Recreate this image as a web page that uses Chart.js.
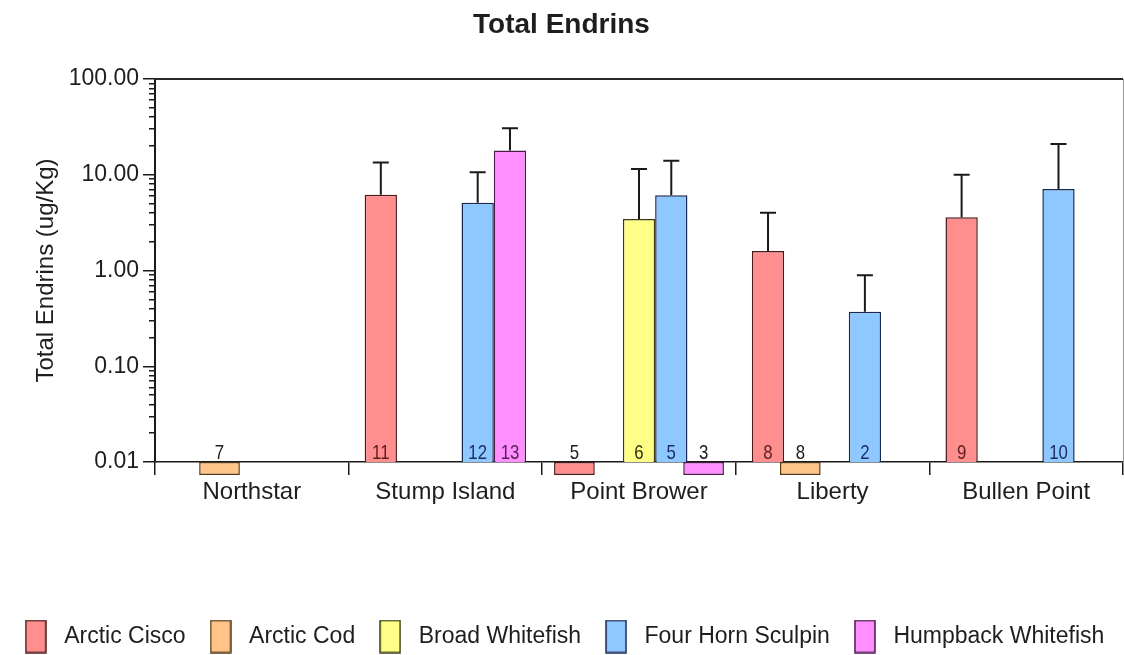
<!DOCTYPE html>
<html>
<head>
<meta charset="utf-8">
<title>Total Endrins</title>
<script src="https://cdn.jsdelivr.net/npm/chart.js@4.4.1/dist/chart.umd.min.js"></script>
<style>
  html, body { margin: 0; padding: 0; background: #ffffff; }
  canvas { display: block; }
</style>
</head>
<body>
<canvas id="chart" width="1124" height="655"></canvas>
<script>
// ---- data -------------------------------------------------------------
const sites = ['Northstar', 'Stump Island', 'Point Brower', 'Liberty', 'Bullen Point'];
const species = ['Arctic Cisco', 'Arctic Cod', 'Broad Whitefish', 'Four Horn Sculpin', 'Humpback Whitefish'];

// Samples with no detection are plotted just below the 0.01 floor.
const ND = 0.0073;

// mean concentration (ug/Kg), upper error bar, sample count
const arcticCiscoMean  = [null, 6.2, ND, 1.6, 3.6];
const arcticCiscoUpper = [null, 13.4, null, 4.0, 10.0];
const arcticCiscoN     = [null, 11, 5, 8, 9];

const arcticCodMean  = [ND, null, null, ND, null];
const arcticCodUpper = [null, null, null, null, null];
const arcticCodN     = [7, null, null, 8, null];

const broadWhitefishMean  = [null, null, 3.45, null, null];
const broadWhitefishUpper = [null, null, 11.5, null, null];
const broadWhitefishN     = [null, null, 6, null, null];

const fourHornMean  = [null, 5.1, 6.1, 0.37, 7.1];
const fourHornUpper = [null, 10.6, 14.0, 0.89, 20.9];
const fourHornN     = [null, 12, 5, 2, 10];

const humpbackMean  = [null, 17.9, ND, null, null];
const humpbackUpper = [null, 30.6, null, null, null];
const humpbackN     = [null, 13, 3, null, null];

const yTickLabels = ['0.01', '0.10', '1.00', '10.00', '100.00'];

// ---- styling ----------------------------------------------------------
const FONT = "'Liberation Sans', Arial, sans-serif";
const INK = '#1e1e1e';
const fills = ['#ff8f8f', '#ffc488', '#ffff88', '#8fc8ff', '#ff8fff'];
const edges = ['#4a1818', '#553814', '#3b3b14', '#18284f', '#4a184a'];
const countInks = ['#5c1e1e', '#222222', '#2e2e10', '#1c2f63', '#5a1f5a'];

// ---- build datasets ---------------------------------------------------
const means = [arcticCiscoMean, arcticCodMean, broadWhitefishMean, fourHornMean, humpbackMean];
const uppers = [arcticCiscoUpper, arcticCodUpper, broadWhitefishUpper, fourHornUpper, humpbackUpper];
const counts = [arcticCiscoN, arcticCodN, broadWhitefishN, fourHornN, humpbackN];

const Y_MIN = Number(yTickLabels[0]);
const Y_MAX = Number(yTickLabels[yTickLabels.length - 1]);
const CAT_PCT = 0.834;

// one slot per species: detected and not-detected bars share the slot
const detectedSets = species.map((name, k) => ({
  label: name,
  stack: 'slot' + k,
  data: means[k].map(v => (v !== null && v >= Y_MIN ? v : null)),
  upper: uppers[k],
  counts: counts[k],
  countInk: countInks[k],
  backgroundColor: fills[k],
  borderColor: edges[k],
  borderWidth: 1.5,
  barPercentage: 1.0,
  categoryPercentage: CAT_PCT
}));

const notDetectedSets = species.map((name, k) => ({
  label: name + ' (not detected)',
  stack: 'slot' + k,
  data: means[k].map(v => (v !== null && v < Y_MIN ? v : null)),
  upper: [],
  counts: counts[k],
  countInk: '#1a1a1a',
  backgroundColor: fills[k],
  borderColor: edges[k],
  borderWidth: 1.5,
  borderSkipped: false,
  barPercentage: 1.26,
  categoryPercentage: CAT_PCT,
  clip: false
}));

// y ticks: every 1..9 multiple of each decade; labels only on decades
const decadeValues = yTickLabels.map(Number);
const yTickValues = [];
decadeValues.forEach((d, i) => {
  yTickValues.push(d);
  if (i < decadeValues.length - 1) {
    for (let m = 2; m <= 9; m++) yTickValues.push(+(d * m).toPrecision(6));
  }
});
const isDecade = v => decadeValues.some(d => Math.abs(d - v) < d * 1e-6);

// tall swatch used as the legend marker
function swatch(k) {
  const c = document.createElement('canvas');
  c.width = 22; c.height = 34;
  const g = c.getContext('2d');
  g.fillStyle = fills[k];
  g.fillRect(1, 1, 20, 32);
  g.strokeStyle = edges[k];
  g.lineWidth = 1.5;
  g.strokeRect(1, 1, 20, 32);
  return c;
}
const swatches = species.map((_, k) => swatch(k));

// error bars, counts and the plot frame
const annotate = {
  id: 'annotate',
  afterDatasetsDraw(chart) {
    const { ctx, chartArea, scales } = chart;
    const yScale = scales.y;
    const base = yScale.getPixelForValue(Y_MIN);

    ctx.save();
    // frame: top edge and light right edge
    ctx.strokeStyle = '#2a2a2a';
    ctx.lineWidth = 2;
    ctx.beginPath();
    ctx.moveTo(chartArea.left, chartArea.top);
    ctx.lineTo(chartArea.right, chartArea.top);
    ctx.stroke();
    ctx.strokeStyle = '#9a9a9a';
    ctx.lineWidth = 1;
    ctx.beginPath();
    ctx.moveTo(chartArea.right + 0.5, chartArea.top);
    ctx.lineTo(chartArea.right + 0.5, chartArea.bottom);
    ctx.stroke();

    chart.data.datasets.forEach((ds, i) => {
      const meta = chart.getDatasetMeta(i);
      meta.data.forEach((bar, j) => {
        if (ds.data[j] === null || ds.data[j] === undefined) return;
        const up = ds.upper[j];
        if (up !== null && up !== undefined) {
          const yTop = yScale.getPixelForValue(up);
          ctx.strokeStyle = '#1a1a1a';
          ctx.lineWidth = 2;
          ctx.beginPath();
          ctx.moveTo(bar.x, bar.y);
          ctx.lineTo(bar.x, yTop);
          ctx.moveTo(bar.x - 8, yTop);
          ctx.lineTo(bar.x + 8, yTop);
          ctx.stroke();
        }
        const n = ds.counts[j];
        if (n !== null && n !== undefined) {
          ctx.save();
          ctx.translate(bar.x, base - 3);
          ctx.scale(0.8, 1);
          ctx.fillStyle = ds.countInk;
          ctx.font = '21px ' + FONT;
          ctx.textAlign = 'center';
          ctx.textBaseline = 'alphabetic';
          ctx.fillText(String(n), 0, 0);
          ctx.restore();
        }
      });
    });
    ctx.restore();
  }
};

new Chart(document.getElementById('chart'), {
  type: 'bar',
  data: {
    labels: sites,
    datasets: detectedSets.concat(notDetectedSets)
  },
  plugins: [annotate],
  options: {
    responsive: false,
    animation: false,
    devicePixelRatio: 1,
    events: [],
    layout: { padding: { left: 0, right: 1, top: 0, bottom: -3 } },
    plugins: {
      tooltip: { enabled: false },
      title: {
        display: true,
        text: 'Total Endrins',
        color: INK,
        font: { family: FONT, size: 28, weight: 'bold' },
        padding: { top: 8, bottom: 37.4 }
      },
      legend: {
        position: 'bottom',
        labels: {
          usePointStyle: true,
          pointStyleWidth: 34,
          color: INK,
          font: { family: FONT, size: 23 },
          padding: 18,
          generateLabels: chart => species.map((name, k) => ({
            text: name,
            pointStyle: swatches[k],
            fillStyle: fills[k],
            strokeStyle: edges[k],
            lineWidth: 1.5,
            hidden: false,
            datasetIndex: k,
            fontColor: INK
          }))
        }
      }
    },
    scales: {
      x: {
        type: 'category',
        position: 'bottom',
        offset: true,
        grid: {
          offset: true,
          drawOnChartArea: false,
          drawTicks: true,
          tickLength: 13,
          color: '#1a1a1a',
          lineWidth: 1.5
        },
        border: { display: true, color: '#1a1a1a', width: 1.5 },
        ticks: {
          color: INK,
          font: { family: FONT, size: 24 },
          padding: 3,
          autoSkip: false,
          maxRotation: 0
        },
        afterFit: scale => { scale.height = 145; }
      },
      y: {
        type: 'logarithmic',
        position: 'left',
        stacked: false,
        min: Y_MIN,
        max: Y_MAX,
        afterBuildTicks: scale => {
          scale.ticks = yTickValues.map(v => ({ value: v, major: isDecade(v) }));
        },
        grid: {
          drawOnChartArea: false,
          drawTicks: true,
          tickLength: 12,
          color: '#1a1a1a',
          lineWidth: 1.5,
          tickBorderDash: ctx => (ctx.tick && isDecade(ctx.tick.value) ? [] : [6, 6]),
          tickBorderDashOffset: ctx => (ctx.tick && isDecade(ctx.tick.value) ? 0 : 6)
        },
        border: { display: true, color: '#1a1a1a', width: 2 },
        ticks: {
          autoSkip: false,
          color: INK,
          font: { family: FONT, size: 23 },
          padding: 4,
          callback: value => {
            const idx = decadeValues.findIndex(d => Math.abs(d - value) < d * 1e-6);
            return idx >= 0 ? yTickLabels[idx] : '';
          }
        },
        title: {
          display: true,
          text: 'Total Endrins (ug/Kg)',
          color: INK,
          font: { family: FONT, size: 24 },
          padding: { top: 32, bottom: 0 }
        },
        afterFit: scale => { scale.width = 155; }
      }
    }
  }
});
</script>
</body>
</html>
